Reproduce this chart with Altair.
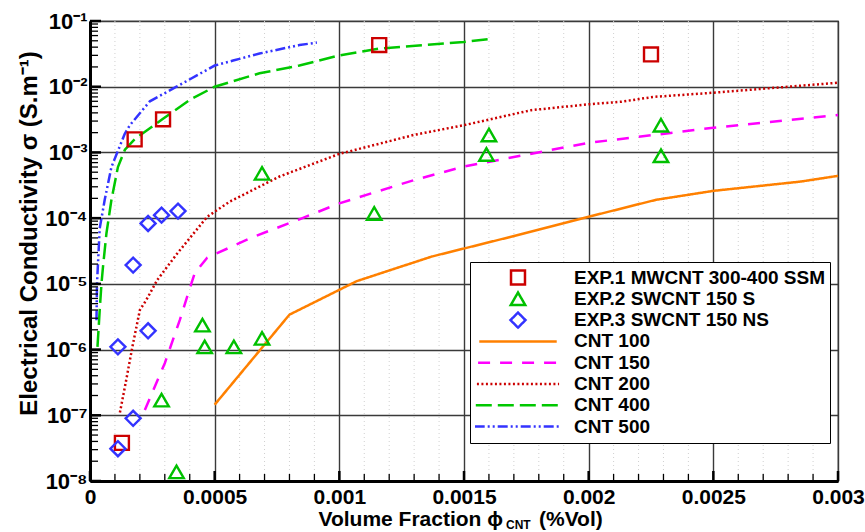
import altair as alt
import pandas as pd

FONT = "Liberation Sans"

# ---- series names, styles -------------------------------------------------
series = [
    "EXP.1 MWCNT 300-400 SSM",
    "EXP.2 SWCNT 150 S",
    "EXP.3 SWCNT 150 NS",
    "CNT 100",
    "CNT 150",
    "CNT 200",
    "CNT 400",
    "CNT 500",
]
colors = ["#CC0000", "#00C000", "#3333FF", "#FF8000", "#FF00FF", "#CC0000", "#00C800", "#3333FF"]
LINE = "M-5,0H5"
shapes = ["square", "triangle-up", "diamond", LINE, LINE, LINE, LINE, LINE]
dashes = [[1, 0], [1, 0], [1, 0], [1, 0], [12, 10], [2, 2.5], [16, 6], [10, 3, 2, 3, 2, 3]]
sizes = [195, 300, 390, 300, 300, 300, 300, 300]

# ---- experimental data ----------------------------------------------------
exp1_x = [0.000128, 0.000179, 0.000293, 0.00116, 0.00225]
exp1_y = [3.8e-8, 1.58e-3, 3.19e-3, 4.3e-2, 3.1e-2]

exp2_x = [0.000347, 0.000287, 0.000451, 0.00046, 0.000577, 0.00069,
          0.00069, 0.00114, 0.0016, 0.00159, 0.00229, 0.00229]
exp2_y = [1.38e-8, 1.7e-7, 2.36e-6, 1.1e-6, 1.1e-6, 1.48e-6,
          4.8e-4, 1.18e-4, 1.84e-3, 9.3e-4, 2.6e-3, 8.9e-4]

exp3_x = [0.000112, 0.000173, 0.000112, 0.000233, 0.000173, 0.000233, 0.000287, 0.000353]
exp3_y = [3.1e-8, 9.0e-8, 1.1e-6, 1.93e-6, 1.93e-5, 8.3e-5, 1.11e-4, 1.28e-4]

# ---- model curves ---------------------------------------------------------
cnt100_x = [0.0005, 0.0008, 0.00107, 0.00137, 0.00167, 0.002, 0.00227, 0.0025, 0.00285, 0.003]
cnt100_y = [1.45e-7, 3.4e-6, 1.1e-5, 2.6e-5, 5.0e-5, 1.05e-4, 1.9e-4, 2.6e-4, 3.6e-4, 4.4e-4]

cnt150_x = [0.00022, 0.0003, 0.00036, 0.0004, 0.00042, 0.00047, 0.00065, 0.00084,
            0.001, 0.0013, 0.0015, 0.002, 0.00226, 0.0025, 0.003]
cnt150_y = [1.2e-7, 6.2e-7, 2.8e-6, 8.5e-6, 1.45e-5, 2.5e-5, 5.1e-5, 9.6e-5,
            1.68e-4, 3.8e-4, 6.1e-4, 1.4e-3, 1.84e-3, 2.38e-3, 3.7e-3]

cnt200_x = [0.00012, 0.000145, 0.00017, 0.0002, 0.000226, 0.00027, 0.00035, 0.00047,
            0.00056, 0.00076, 0.001, 0.0013, 0.0015, 0.00177, 0.002, 0.00213,
            0.00226, 0.0025, 0.003]
cnt200_y = [1.1e-7, 3.4e-7, 1.1e-6, 4.0e-6, 5.7e-6, 1.15e-5, 2.9e-5, 1.05e-4,
            1.78e-4, 4.3e-4, 9.5e-4, 1.85e-3, 2.6e-3, 4.4e-3, 5.4e-3, 5.9e-3,
            7.0e-3, 8.1e-3, 1.15e-2]

cnt400_x = [3.0e-5, 3.9e-5, 4.6e-5, 5.2e-5, 6.6e-5, 8.6e-5, 1.12e-4, 1.4e-4, 1.8e-4,
            2.9e-4, 4.0e-4, 5.0e-4, 6.8e-4, 8.4e-4, 1.0e-3, 1.16e-3, 1.5e-3, 1.6e-3]
cnt400_y = [1.1e-6, 4.0e-6, 1.0e-5, 1.8e-5, 5.9e-5, 1.9e-4, 6.0e-4, 1.1e-3, 1.6e-3,
            3.2e-3, 6.3e-3, 1.0e-2, 1.6e-2, 2.1e-2, 3.0e-2, 3.8e-2, 4.8e-2, 5.3e-2]

cnt500_x = [2.6e-5, 2.8e-5, 3.9e-5, 5.9e-5, 8.6e-5, 1.39e-4, 1.6e-4, 2.4e-4,
            3.47e-4, 5.0e-4, 5.74e-4, 6.8e-4, 8.4e-4, 9.1e-4]
cnt500_y = [2.8e-6, 1.0e-5, 7.0e-5, 1.9e-4, 6.0e-4, 1.9e-3, 2.6e-3, 6.0e-3,
            1.0e-2, 2.1e-2, 2.5e-2, 3.2e-2, 4.3e-2, 4.7e-2]

# ---- axis ticks -----------------------------------------------------------
x_major = [0, 0.0005, 0.001, 0.0015, 0.002, 0.0025, 0.003]
x_minor = [round(i * 0.0001, 6) for i in range(1, 30) if i % 5 != 0]
y_major = [10.0 ** e for e in range(-8, 0)]
y_minor = [m * 10.0 ** e for e in range(-8, -1) for m in range(2, 10)]


def frame(xs, ys, name):
    return pd.DataFrame({"x": xs, "y": ys, "series": name})


points = pd.concat([
    frame(exp1_x, exp1_y, series[0]),
    frame(exp2_x, exp2_y, series[1]),
    frame(exp3_x, exp3_y, series[2]),
])
curves = pd.concat([
    frame(cnt100_x, cnt100_y, series[3]),
    frame(cnt150_x, cnt150_y, series[4]),
    frame(cnt200_x, cnt200_y, series[5]),
    frame(cnt400_x, cnt400_y, series[6]),
    frame(cnt500_x, cnt500_y, series[7]),
])

W, H = 748, 460
xscale = alt.Scale(domain=[0, 0.003], nice=False, zero=False)
yscale = alt.Scale(type="log", domain=[1e-8, 1e-1], nice=False)

legend = alt.Legend(
    title=None, orient="none", legendX=380, legendY=241,
    fillColor="white", strokeColor="black", padding=5,
    labelFont=FONT, labelFontSize=19, labelFontWeight="bold", labelColor="black",
    labelLimit=500, symbolSize=300, symbolOffset=33, labelOffset=46,
    symbolStrokeWidth=2.5, clipHeight=21, rowPadding=0.3, zindex=1,
)
color_enc = alt.Color("series:N", scale=alt.Scale(domain=series, range=colors), legend=legend)
shape_enc = alt.Shape("series:N", scale=alt.Scale(domain=series, range=shapes), legend=legend)
dash_enc = alt.StrokeDash("series:N", scale=alt.Scale(domain=series, range=dashes), legend=legend)
size_enc = alt.Size("series:N", scale=alt.Scale(domain=series, range=sizes), legend=None)

sup = "['⁰','¹','²','³','⁴','⁵','⁶','⁷','⁸','⁹']"
y_label_expr = f"'10⁻' + {sup}[round(-log(datum.value) / LN10)]"

x_axis = alt.Axis(
    values=x_major, format="~g", title=None, ticks=False, grid=True,
    gridColor="#3a3a3a", gridWidth=1.4, domainColor="black", domainWidth=3,
    labelFont=FONT, labelFontSize=21, labelFontWeight="bold", labelColor="black",
    labelPadding=5, labelFlush=False,
)
y_axis = alt.Axis(
    values=y_major + [1e-1], labelExpr=y_label_expr, ticks=False, grid=True,
    gridColor="#3a3a3a", gridWidth=1.4, domainColor="black", domainWidth=3,
    labelFont=FONT, labelFontSize=22, labelFontWeight="bold", labelColor="black",
    labelPadding=3,
    title="Electrical Conductivity σ (S.m⁻¹)", titleFont=FONT, titleFontSize=24,
    titleFontWeight="bold", titleColor="black", titleX=-61, titleY=212,
    titleBaseline="middle", titleAngle=-90,
)


def xq(field):
    return alt.X(f"{field}:Q", scale=xscale, axis=x_axis)


def yq(field):
    return alt.Y(f"{field}:Q", scale=yscale, axis=y_axis)


# faint dotted minor grid
minor_grid = alt.Chart(pd.DataFrame({"v": x_minor})).mark_rule(
    color="#d0d0d0", strokeWidth=1, strokeDash=[1, 3]
).encode(x=xq("v"), y=alt.value(0), y2=alt.value(H))

lines = alt.Chart(curves).mark_line(strokeWidth=2.5).encode(
    x=xq("x"), y=yq("y"),
    color=color_enc,
    strokeDash=dash_enc,
    detail="series:N",
)

markers = alt.Chart(points).mark_point(filled=False, strokeWidth=2.4, opacity=1).encode(
    x=xq("x"), y=yq("y"),
    color=color_enc,
    shape=shape_enc,
    size=size_enc,
)

# inward tick marks
xt_major = alt.Chart(pd.DataFrame({"v": x_major})).mark_rule(color="black", strokeWidth=2.5).encode(
    x=xq("v"), y=alt.value(H), y2=alt.value(H - 10))
xt_minor = alt.Chart(pd.DataFrame({"v": x_minor})).mark_rule(color="black", strokeWidth=1.3).encode(
    x=xq("v"), y=alt.value(H), y2=alt.value(H - 7))
yt_major = alt.Chart(pd.DataFrame({"v": y_major})).mark_rule(color="black", strokeWidth=2.5).encode(
    y=yq("v"), x=alt.value(0), x2=alt.value(11))
yt_minor = alt.Chart(pd.DataFrame({"v": y_minor})).mark_rule(color="black", strokeWidth=1.3).encode(
    y=yq("v"), x=alt.value(0), x2=alt.value(8))

# x-axis title with subscript
title_main = alt.Chart(pd.DataFrame({"t": ["Volume Fraction ϕ"]})).mark_text(
    font=FONT, fontSize=21, fontWeight="bold", align="right", baseline="alphabetic", color="black"
).encode(text="t:N", x=alt.value(413), y=alt.value(505))
title_sub = alt.Chart(pd.DataFrame({"t": ["CNT"]})).mark_text(
    font=FONT, fontSize=12, fontWeight="bold", align="left", baseline="alphabetic", color="black"
).encode(text="t:N", x=alt.value(416), y=alt.value(508))
title_tail = alt.Chart(pd.DataFrame({"t": ["(%Vol)"]})).mark_text(
    font=FONT, fontSize=21, fontWeight="bold", align="left", baseline="alphabetic", color="black"
).encode(text="t:N", x=alt.value(449), y=alt.value(505))

chart = alt.layer(
    minor_grid, lines, markers, xt_major, xt_minor, yt_major, yt_minor,
    title_main, title_sub, title_tail,
).properties(
    width=W, height=H, autosize="none",
    padding={"left": 90, "top": 21, "right": 27, "bottom": 51},
).configure_view(stroke="black", strokeWidth=1.2)

chart.save("out.html", embed_options={"renderer": "svg", "actions": False})
